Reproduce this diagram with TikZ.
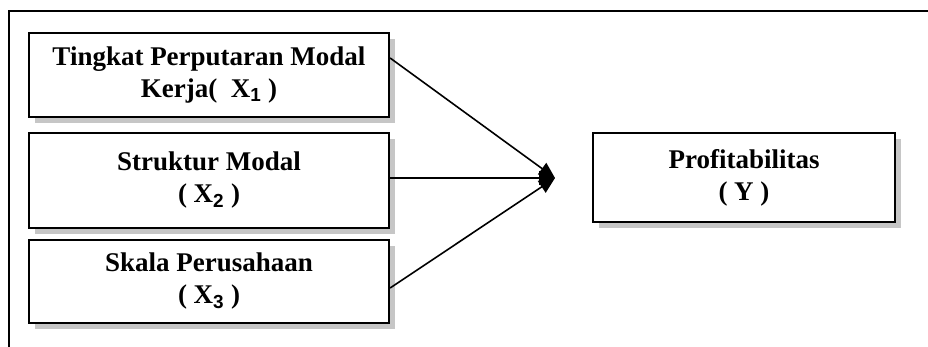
\documentclass[tikz,border=0pt]{standalone}
\usepackage{fontspec}
\setmainfont{Liberation Serif}
\setsansfont{Liberation Sans}
\usetikzlibrary{arrows.meta,shadows}
\tikzset{
  varbox/.style={draw=black, line width=2.2pt, fill=white, align=center,
    font=\fontsize{27}{32}\selectfont\bfseries, inner sep=0pt,
    drop shadow={shadow xshift=6pt, shadow yshift=-6pt, fill=gray!45, opacity=1}},
  link/.style={line width=1.6pt, -{Triangle[length=16pt,width=14pt]}},
  frame/.style={line width=1.8pt}
}
\newcommand{\subx}[1]{\textsubscript{\sffamily\bfseries #1}}
\begin{document}
\begin{tikzpicture}[x=1pt,y=-1pt]
\useasboundingbox (0,0) rectangle (928,347);
\draw[frame] (928,11) -- (9,11) -- (9,347);
\node[varbox, minimum width=360pt, minimum height=84pt] (x1) at (209,75)
  {Tingkat Perputaran Modal\\Kerja(\ \ X\subx{1} )};
\node[varbox, minimum width=360pt, minimum height=95pt] (x2) at (209,180.5)
  {Struktur Modal\\( X\subx{2} )};
\node[varbox, minimum width=360pt, minimum height=83pt] (x3) at (209,281.5)
  {Skala Perusahaan\\( X\subx{3} )};
\node[varbox, minimum width=302pt, minimum height=89pt] (y) at (744,177.5)
  {Profitabilitas\\( Y )};
\coordinate (tip) at (555,178);
\draw[link] (x1.east |- 0,58) -- (tip);
\draw[link] (x2.east |- 0,178) -- (tip);
\draw[link] (x3.east |- 0,288) -- (tip);
\end{tikzpicture}
\end{document}
